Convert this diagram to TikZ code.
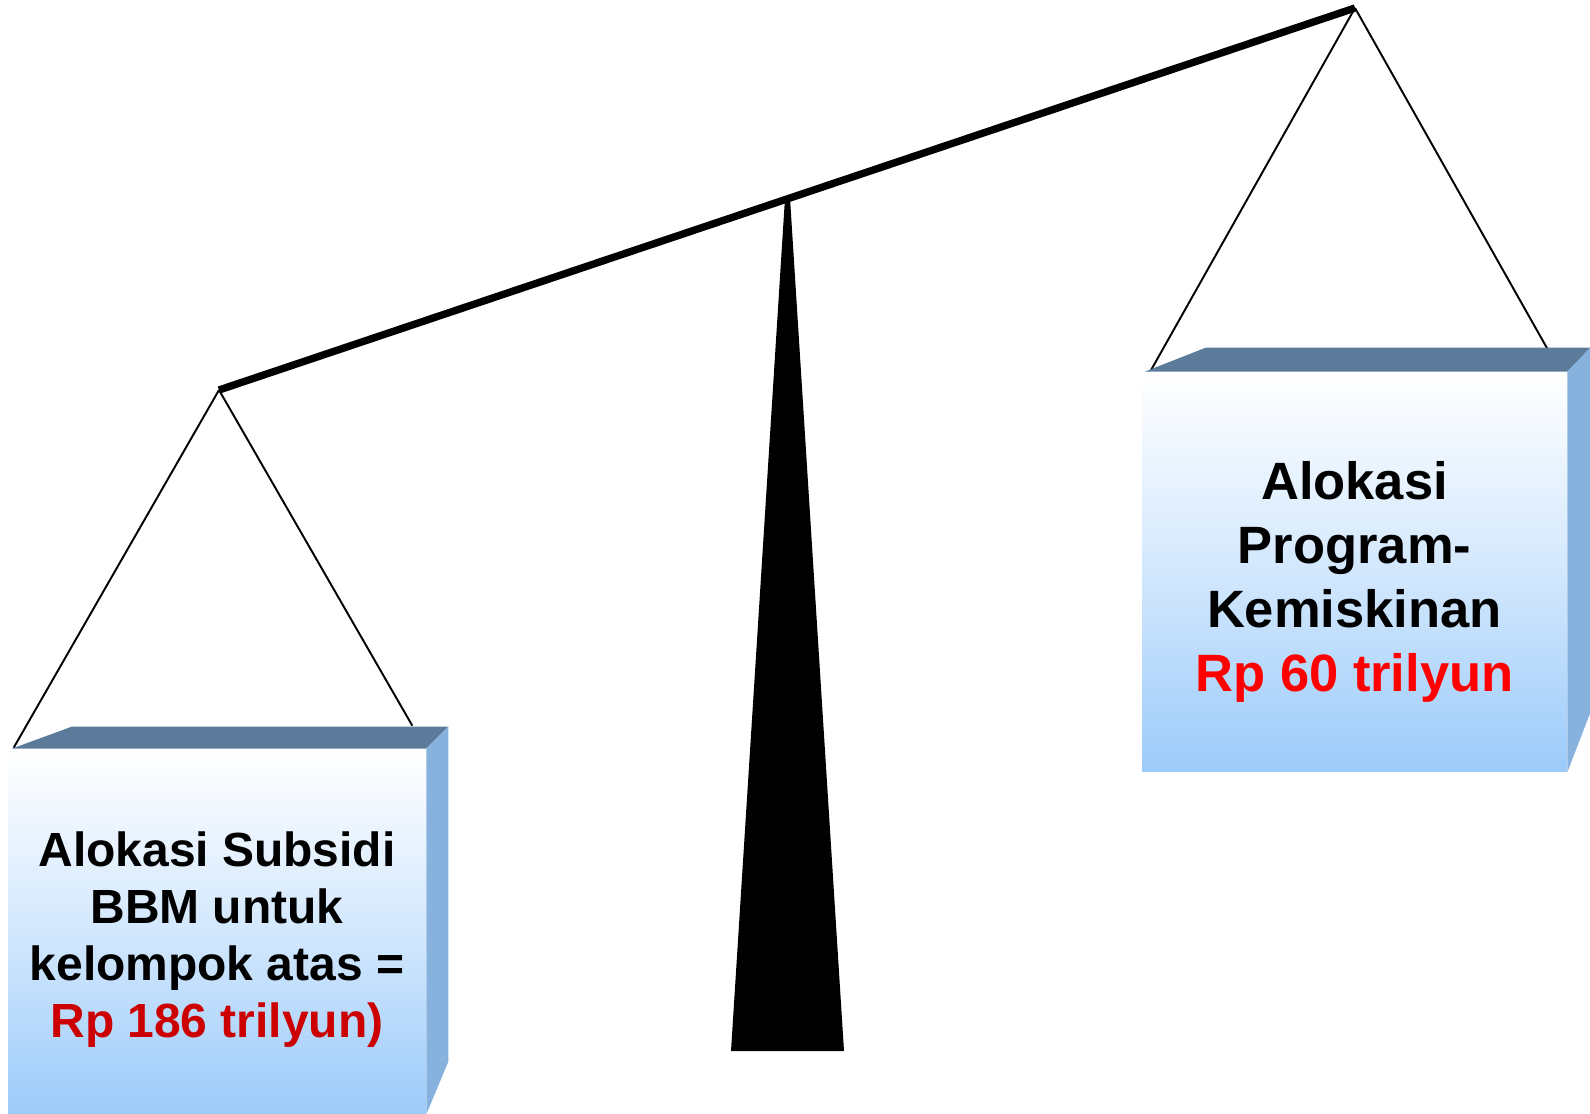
\documentclass[tikz,border=0pt]{standalone}
\usepackage{fontspec}
\setmainfont{Liberation Sans}
\usetikzlibrary{calc,positioning}
\definecolor{boxblue}{HTML}{9CCBFA}
\definecolor{boxtop}{HTML}{5C7B9A}
\definecolor{boxside}{HTML}{88B2DE}
\definecolor{darkred}{HTML}{CC0000}
\tikzstyle{box} = [rectangle, inner sep=0pt, top color=white, bottom color=boxblue, middle color=boxblue!45]
\tikzstyle{topface} = [fill=boxtop]
\tikzstyle{sideface} = [fill=boxside]
\tikzstyle{cord} = [line width=1.1pt, black]
\tikzstyle{beam} = [line width=4.2pt, black]
\tikzstyle{boxtext} = [align=center, font=\bfseries, inner sep=0pt]
\begin{document}
\begin{tikzpicture}[x={(0.02cm,0)}, y={(0,-0.02cm)}]
            \useasboundingbox (0,0) rectangle (1590,1114);
            \coordinate (lend) at (219,390);
            \coordinate (rend) at (1355,8);
            \coordinate (pivot) at (787,198);
            \node (lbox) [box, minimum width=8.36cm, minimum height=7.3cm] at (217,931.5) {};
            \node (rbox) [box, minimum width=8.5cm, minimum height=8cm] at (1354.5,572) {};
            \draw [cord] (lend) -- ($(lbox.north west)+(6,-1)$);
            \draw [cord] (lend) -- ($(lbox.north east)+(-14,-23)$);
            \draw [cord] (rend) -- ($(rbox.north west)+(9,-1)$);
            \draw [cord] (rend) -- ($(rbox.north east)+(-20,-23)$);
            \fill [topface] ($(lbox.north west)+(4,0)$) -- ($(lbox.north west)+(64,-22)$) -- ($(lbox.north east)+(22,-22)$) -- (lbox.north east) -- cycle;
            \fill [sideface] (lbox.north east) -- ($(lbox.north east)+(22,-22)$) -- ($(lbox.north east)+(22,313)$) -- (lbox.south east) -- cycle;
            \fill [topface] ($(rbox.north west)+(3,0)$) -- ($(rbox.north west)+(64,-24)$) -- ($(rbox.north east)+(23,-24)$) -- (rbox.north east) -- cycle;
            \fill [sideface] (rbox.north east) -- ($(rbox.north east)+(23,-24)$) -- ($(rbox.north east)+(23,341)$) -- (rbox.south east) -- cycle;
            \fill [black] (731,1051) -- ($(pivot)+(-2,0)$) -- ($(pivot)+(3,0)$) -- (844,1051) -- cycle;
            \draw [beam] (lend) -- (rend);
            \node (ltext) [boxtext, font=\bfseries\fontsize{27.3}{32.4}\selectfont] at ($(lbox.center)+(0,8)$) {Alokasi Subsidi\\BBM untuk\\kelompok atas =\\\textcolor{darkred}{Rp 186 trilyun)}};
            \node (rtext) [boxtext, font=\bfseries\fontsize{29.9}{36.4}\selectfont] at ($(rbox.center)+(0,10)$) {Alokasi\\Program-\\Kemiskinan\\\textcolor{red}{Rp 60 trilyun}};
        \end{tikzpicture}
\end{document}
